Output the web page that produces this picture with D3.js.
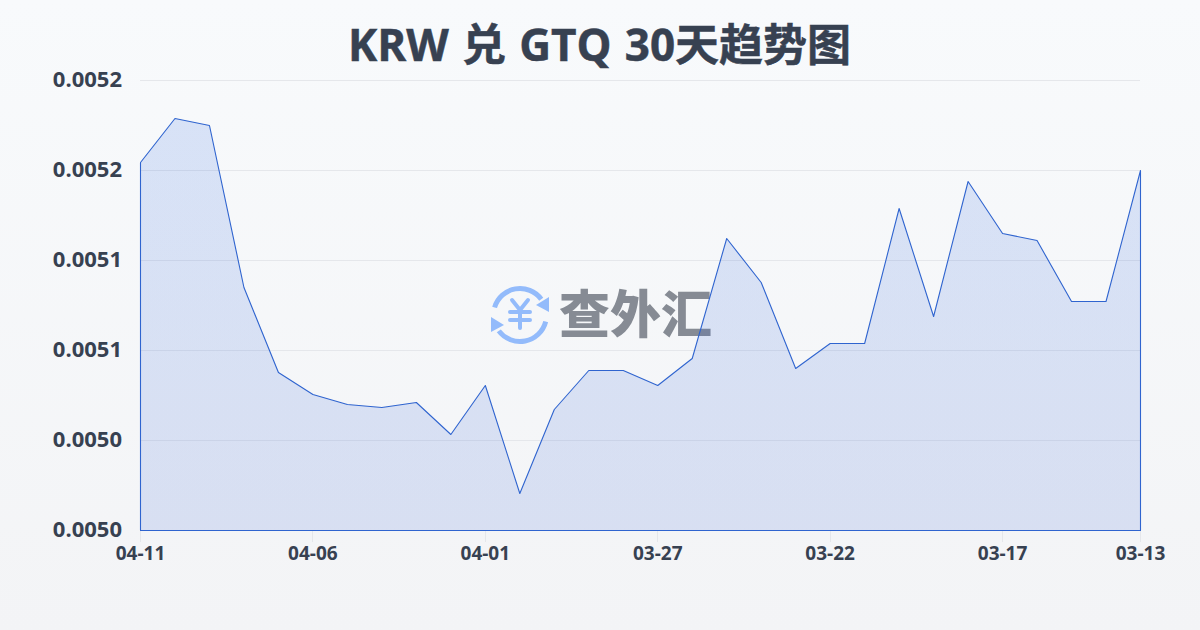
<!DOCTYPE html>
<html><head><meta charset="utf-8">
<script src="https://d3js.org/d3.v7.min.js"></script>
<style>html,body{margin:0;padding:0;width:1200px;height:630px;overflow:hidden}svg{display:block}</style>
</head><body><svg id="c" width="1200" height="630"></svg>
<script>
const titleText = "KRW 兑 GTQ 30天趋势图";
const watermarkText = "查外汇";
const dateLabels = ["04-11","04-06","04-01","03-27","03-22","03-17","03-13"];
const labelIndexes = [0,5,10,15,20,25,29];
const yTicks = [0.0050,0.00504,0.00508,0.00512,0.00516,0.0052];
const rates = [0.00516356,0.00518311,0.00518,0.005108,0.00507022,0.00506044,0.005056,0.00505467,0.00505689,0.00504267,
0.00506444,0.00501644,0.00505378,0.00507111,0.00507111,0.00506444,0.00507644,0.00512978,0.00511022,0.005072,
0.00508311,0.00508311,0.00514311,0.00509511,0.00515511,0.005132,0.00512889,0.00510178,0.00510178,0.00516];
const font = '"Open Sans","Noto Sans CJK SC",sans-serif';
const svg = d3.select("#c");
const defs = svg.append("defs");
const bg = defs.append("linearGradient").attr("id","bg").attr("x1",0).attr("y1",0).attr("x2",0).attr("y2",1);
bg.append("stop").attr("offset",0).attr("stop-color","#f8fafc");
bg.append("stop").attr("offset",1).attr("stop-color","#f3f4f6");
const ag = defs.append("linearGradient").attr("id","ag").attr("gradientUnits","userSpaceOnUse").attr("x1",0).attr("y1",80).attr("x2",0).attr("y2",530);
ag.append("stop").attr("offset",0).attr("stop-color","#2563e0").attr("stop-opacity",0.15);
ag.append("stop").attr("offset",1).attr("stop-color","#1d4ed0").attr("stop-opacity",0.13);
svg.append("rect").attr("width",1200).attr("height",630).attr("fill","url(#bg)");

const x = d3.scaleLinear().domain([0,rates.length-1]).range([140.5,1140.5]);
const y = d3.scaleLinear().domain([0.0050,0.0052]).range([530.5,80.5]);

svg.append("text").attr("x",599.5).attr("y",61).attr("text-anchor","middle")
  .attr("font-family",font).attr("font-weight",700).attr("font-size",44).attr("word-spacing",1.8)
  .attr("stroke","#374151").attr("stroke-width",0.5).attr("fill","#374151").text(titleText);

svg.append("g").selectAll("line").data(yTicks.slice(1)).join("line")
  .attr("x1",140).attr("x2",1140).attr("y1",d=>y(d)).attr("y2",d=>y(d))
  .attr("stroke","#e5e7eb").attr("stroke-width",1);
svg.append("g").selectAll("text").data(yTicks).join("text")
  .attr("x",122).attr("y",d=>y(d)+6).attr("text-anchor","end")
  .attr("font-family",font).attr("font-weight",700).attr("font-size",22).attr("fill","#374151")
  .text(d=>d3.format(".4f")(d));
svg.append("g").selectAll("line").data(labelIndexes).join("line")
  .attr("x1",d=>Math.round(x(d)-0.5)+0.5).attr("x2",d=>Math.round(x(d)-0.5)+0.5).attr("y1",530).attr("y2",542)
  .attr("stroke","#e5e7eb");
svg.append("g").selectAll("text").data(labelIndexes).join("text")
  .attr("x",d=>x(d)).attr("y",560).attr("text-anchor","middle")
  .attr("font-family",font).attr("font-weight",700).attr("font-size",19).attr("fill","#374151")
  .text((d,i)=>dateLabels[i]);

const wm = svg.append("g");
const icon = wm.append("g").attr("transform","translate(520,315)").attr("fill","none").attr("stroke","#93bbfb").attr("stroke-linecap","round");
icon.append("path").attr("d",d3.arc()({innerRadius:26.5,outerRadius:26.5,startAngle:-1.28,endAngle:0.93})).attr("stroke-width",5);
icon.append("path").attr("d",d3.arc()({innerRadius:26.5,outerRadius:26.5,startAngle:1.82,endAngle:4.07})).attr("stroke-width",5);
icon.append("path").attr("d","M 29 -18 L 29 -3 L 16 -10 Z").attr("fill","#93bbfb").attr("stroke","none");
icon.append("path").attr("d","M -29 2 L -29 17 L -16 10 Z").attr("fill","#93bbfb").attr("stroke","none");
icon.append("path").attr("d","M -8 -15 L 0 -5 L 8 -15 M 0 -5 V 13 M -10 -3 H 10 M -10 5 H 10").attr("stroke-width",4);
wm.append("text").attr("x",559).attr("y",333).attr("font-family",'"Noto Sans CJK SC",sans-serif').attr("font-weight",900).attr("font-size",51)
  .attr("fill","#868b94").text(watermarkText);

const area = d3.area().x((d,i)=>x(i)).y0(y(0.0050)).y1(d=>y(d));
svg.append("path").datum(rates).attr("d",area).attr("fill","url(#ag)").attr("stroke","#2f64cf").attr("stroke-width",1.1).attr("stroke-linejoin","round");
</script></body></html>
